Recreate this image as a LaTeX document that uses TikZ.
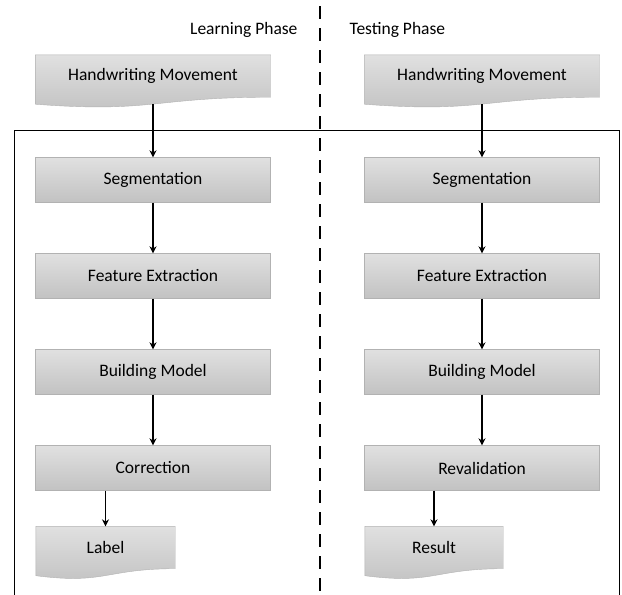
\documentclass[tikz,border=0pt]{standalone}
\usepackage{fontspec}
\setmainfont{Carlito}
\usetikzlibrary{arrows.meta,calc,backgrounds}

\begin{document}
\begin{tikzpicture}[x=1pt, y=-1pt, >={Stealth[length=7pt,width=7pt]},
	   font=\fontsize{17.5}{20}\selectfont,
	   box/.style={draw=black!30, top color=black!12, bottom color=black!24, minimum width=235pt, minimum height=45pt, inner sep=0pt},
	   doc/.style={minimum width=235pt, minimum height=42pt, inner sep=0pt},
	   flow/.style={->, line width=1.3pt}]
	  \useasboundingbox (0,0) rectangle (622,595);
	  % phase titles
	  \node[anchor=east] (learn) at (301,30) {Learning Phase};
	  \node[anchor=west] (test) at (346,30) {Testing Phase};
	  % learning column
	  \node[doc] (hwL) at (153,76) {Handwriting Movement};
	  \node[box] (segL) at (153,180) {Segmentation};
	  \node[box] (featL) at (153,276) {Feature Extraction};
	  \node[box] (buildL) at (153,372) {Building Model};
	  \node[box] (corrL) at (153,468) {Correction};
	  \node[doc, minimum width=139pt] (labL) at (105.5,547.5) {Label};
	  % testing column
	  \node[doc] (hwR) at (482,76) {Handwriting Movement};
	  \node[box] (segR) at (482,180) {Segmentation};
	  \node[box] (featR) at (482,276) {Feature Extraction};
	  \node[box] (buildR) at (482,372) {Building Model};
	  \node[box] (revR) at (482,468) {Revalidation};
	  \node[doc, minimum width=138pt] (resR) at (434,547.5) {Result};
	  \begin{scope}[on background layer]
	    \foreach \n in {hwL,hwR,labL,resR}
	      \shade[draw=black!30, top color=black!12, bottom color=black!24]
	        (\n.north west) -- (\n.north east) -- (\n.south east)
	        .. controls (\n.south) and ($(\n.south)+(0,16)$) .. ($(\n.south west)+(0,7)$) -- cycle;
	    \draw[line width=1pt] (14,595) -- (14,130) -- (619,130) -- (619,595);
	    \draw[line width=2.6pt, dash pattern=on 13pt off 9pt] (320,6) -- (320,595);
	  \end{scope}
	  \draw[flow] ([yshift=-7pt]hwL.south) -- (segL); \draw[flow] (segL)--(featL); \draw[flow] (featL)--(buildL); \draw[flow] (buildL)--(corrL);
	  \draw[flow] (corrL.south -| labL) -- (labL);
	  \draw[flow] ([yshift=-7pt]hwR.south) -- (segR); \draw[flow] (segR)--(featR); \draw[flow] (featR)--(buildR); \draw[flow] (buildR)--(revR);
	  \draw[flow] (revR.south -| resR) -- (resR);
	\end{tikzpicture}
\end{document}
